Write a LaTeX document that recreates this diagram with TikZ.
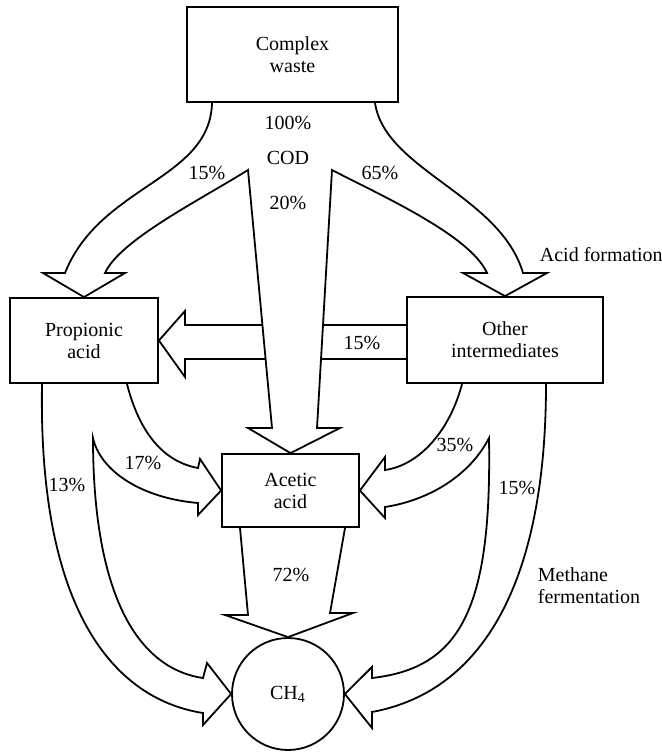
\documentclass[tikz,border=0pt]{standalone}
\usepackage{fontspec}
\setmainfont{Liberation Serif}
\usetikzlibrary{backgrounds}

\begin{document}
\begin{tikzpicture}[x=0.5pt, y=-0.5pt, line width=0.9pt,
  box/.style={draw, rectangle, align=center, inner sep=2pt,
    font=\fontsize{10}{11}\selectfont},
  flow/.style={draw, fill=white, line width=0.9pt, line join=miter},
  pct/.style={inner sep=1pt, align=left, font=\fontsize{10}{11}\selectfont}]
  \useasboundingbox (0,0) rectangle (662,753);
  \node [box, minimum width=105.5pt, minimum height=47.5pt] (waste) at (292.5,54.5) {Complex\\waste};
  \node [box, minimum width=74pt, minimum height=42.5pt] (prop) at (84,340.5) {Propionic\\acid};
  \node [box, minimum width=98pt, minimum height=43pt] (other) at (505,340) {Other\\intermediates};
  \node [box, minimum width=68.5pt, minimum height=36.5pt] (acetic) at (290.5,490.5) {Acetic\\acid};
  \node [draw, circle, minimum size=56pt, inner sep=0pt] (ch4) at (288,694) {CH\textsubscript{4}};

  \begin{scope}[on background layer]
    \draw [flow] (407,325) -- (185,325) -- (185,311) -- (prop.east) -- (185,377) -- (185,359) -- (407,359);
    \draw [flow] (212,103) .. controls (210,180) and (100,185) .. (65,273) -- (43,273) -- (prop.north)
      -- (125,273) -- (105,273) .. controls (120,240) and (200,200) .. (248,170)
      -- (272,428) -- (248,428) -- (acetic.north) -- (340,428) -- (317,428) -- (332,170)
      .. controls (380,195) and (470,235) .. (487,273) -- (463,273) -- (other.north)
      -- (547,273) -- (523,273) .. controls (500,195) and (385,170) .. (375,103);
    \draw [flow] (42,384) .. controls (38,620) and (120,700) .. (203,713) -- (203,725) -- (ch4.west)
      -- (207,663) -- (203,678) .. controls (135,668) and (93,590) .. (93,438)
      .. controls (100,470) and (140,498) .. (198,503) -- (198,515) -- (acetic.west)
      -- (200,459) -- (198,468) .. controls (165,462) and (140,435) .. (127,384);
    \draw [flow] (462,384) .. controls (450,430) and (420,465) .. (385,470) -- (385,457) -- (acetic.east)
      -- (385,518) -- (385,507) .. controls (430,500) and (470,475) .. (489,438)
      .. controls (492,610) and (460,668) .. (372,678) -- (372,667) -- (ch4.east)
      -- (372,728) -- (372,712) .. controls (490,690) and (546,570) .. (546,384);
    \draw [flow] (240,528) -- (248,615) -- (225,615) -- (ch4.north) -- (353,613) -- (330,613) -- (345,528);
  \end{scope}

  \node [pct] (total) at (288,123) {100\%};
  \node [pct] (cod) at (288,158) {COD};
  \node [pct] (toacetic) at (288,203) {20\%};
  \node [pct] (toprop) at (207,173) {15\%};
  \node [pct] (toother) at (380,173) {65\%};
  \node [pct] (otherprop) at (362,343) {15\%};
  \node [pct, anchor=west] (acidform) at (537,255) {Acid formation};
  \node [pct] (propacetic) at (143,463) {17\%};
  \node [pct] (propch) at (67,485) {13\%};
  \node [pct] (otheracetic) at (455,445) {35\%};
  \node [pct] (otherch) at (517,488) {15\%};
  \node [pct] (aceticch) at (291,575) {72\%};
  \node [pct, anchor=west] (methferm) at (535,586) {Methane\\fermentation};
\end{tikzpicture}
\end{document}
